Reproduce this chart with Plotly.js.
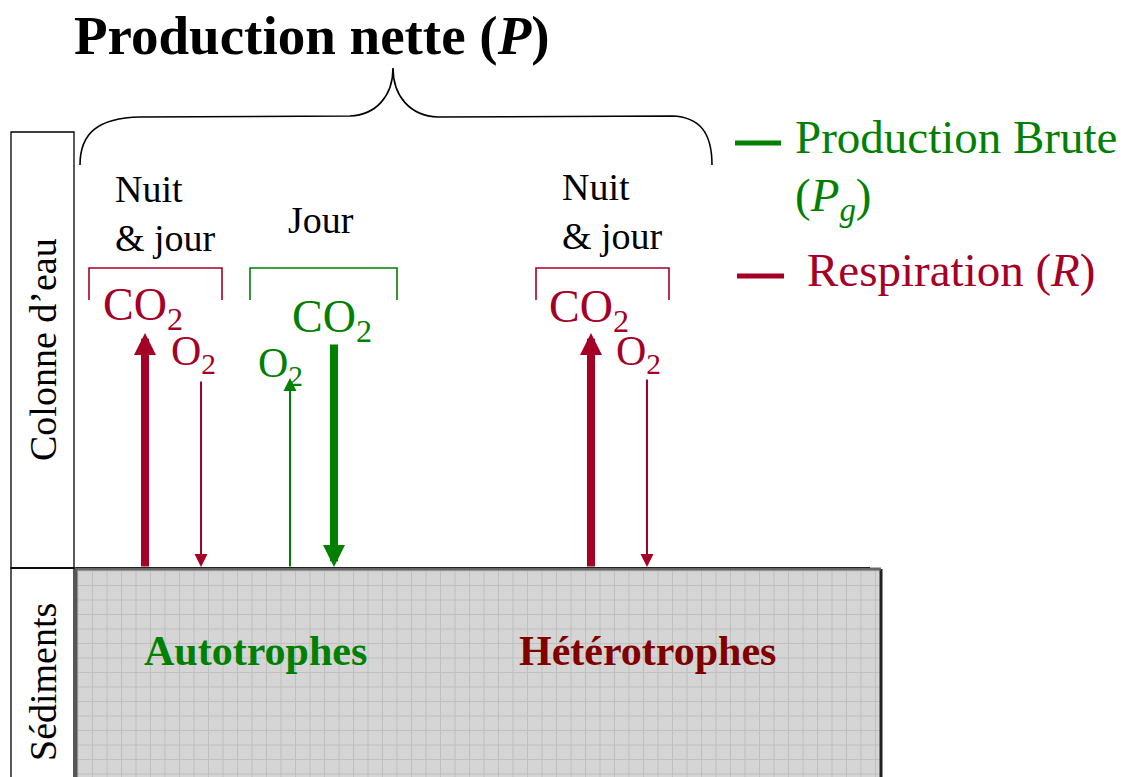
<!DOCTYPE html>
<html>
<head>
<meta charset="utf-8">
<script src="https://cdn.plot.ly/plotly-3.0.1.min.js"></script>
<style>html,body{margin:0;padding:0;background:#fff;}#chart{width:1126px;height:777px;}</style>
</head>
<body>
<div id="chart"></div>
<script>
// ---- content (labels and flux descriptors) ----
const titleText = 'Production nette (<i>P</i>)';
const zones = ['Colonne d’eau', 'Sédiments'];
const groups = ['Autotrophes', 'Hétérotrophes'];
const periods = ['Nuit<br>& jour', 'Jour', 'Nuit<br>& jour'];
const legendLabels = ['Production Brute', '(<i>P<sub>g</sub></i>)', 'Respiration (<i>R</i>)'];
const fluxGas = ['CO<sub>2</sub>', 'O<sub>2</sub>', 'O<sub>2</sub>', 'CO<sub>2</sub>', 'CO<sub>2</sub>', 'O<sub>2</sub>'];
const fluxDirection = ['up', 'down', 'up', 'down', 'up', 'down'];
const fluxProcess = ['R', 'R', 'Pg', 'Pg', 'R', 'R'];
const fluxStrength = ['fort', 'faible', 'faible', 'fort', 'fort', 'faible'];

// ---- styles ----
const SERIF = 'Liberation Serif, Times New Roman, serif';
const RED = '#a50026';
const GREEN = '#008000';
const DARKRED = '#800000';
const procColor = {R: RED, Pg: GREEN};

// ---- layout geometry (pixels in a 1126x777 frame) ----
const arrowX = [145, 201, 290, 334, 591, 647];
const arrowTop = [333, 380, 378, 343, 333, 378];
const bottomY = 567;
const gasPos = [[101, 308], [169, 354], [256, 366], [290, 320], [547, 310], [614, 354]];
const gasSize = [46, 42, 42, 46, 46, 42];
const periodPos = [[113, 213, 'left'], [321, 220, 'center'], [560, 211, 'left']];
const bracketSpan = [[89, 222, 'R'], [250, 397, 'Pg'], [536, 669, 'R']];

const shapes = [];
const annotations = [];

// left zone boxes
shapes.push({type:'rect', x0:11, x1:74, y0:132, y1:568, line:{color:'#000', width:1.3}, fillcolor:'rgba(0,0,0,0)'});
shapes.push({type:'rect', x0:11, x1:74, y0:568, y1:790, line:{color:'#000', width:1.3}, fillcolor:'rgba(0,0,0,0)'});
shapes.push({type:'line', x0:74, x1:78, y0:568, y1:568, line:{color:'#000', width:1.3}});

// sediment block
const sx0 = 76, sx1 = 881, sy0 = 569, sy1 = 790;
shapes.push({type:'rect', x0:sx0, x1:sx1, y0:sy0, y1:sy1, line:{width:0}, fillcolor:'#d5d5d5', layer:'below'});
let grid = '';
for (let x = 78; x < sx1; x += 14.5) grid += `M${x},${sy0} L${x},${sy1} `;
for (let y = 571; y < sy1; y += 14.5) grid += `M${sx0},${y} L${sx1},${y} `;
shapes.push({type:'path', path:grid, line:{color:'#bfbfbf', width:1}, layer:'below'});
shapes.push({type:'line', x0:sx0, x1:sx0, y0:sy0, y1:sy1, line:{color:'#555', width:3}});
shapes.push({type:'line', x0:sx1, x1:sx1, y0:sy0, y1:sy1, line:{color:'#222', width:3}});
shapes.push({type:'line', x0:sx0, x1:sx1, y0:sy0, y1:sy0, line:{color:'#666', width:3}});
shapes.push({type:'line', x0:sx0, x1:870, y0:sy0-1.5, y1:sy0-1.5, line:{color:'#222', width:1}});

// curly brace
shapes.push({type:'path',
  path:'M80,165 C80,133 98,118 140,117 L350,116 C376,115 393,96 393,68 C393,96 410,116 438,117 L672,116 C700,117 712,133 712,165',
  line:{color:'#000', width:1.6}});

// brackets
bracketSpan.forEach(b => {
  shapes.push({type:'path', path:`M${b[0]},300 L${b[0]},268 L${b[1]},268 L${b[1]},300`,
    line:{color:procColor[b[2]], width:1.6}});
});

// legend lines
shapes.push({type:'line', x0:735, x1:781, y0:143, y1:143, line:{color:GREEN, width:5}});
shapes.push({type:'line', x0:737, x1:784, y0:276, y1:276, line:{color:RED, width:5}});

// title
annotations.push({x:312, y:35, text:'<b>'+titleText+'</b>', showarrow:false, xanchor:'center', yanchor:'middle',
  font:{family:SERIF, size:55, color:'#000'}});

// zone labels (rotated)
annotations.push({x:43, y:350, text:zones[0], showarrow:false, textangle:-90, xanchor:'center', yanchor:'middle',
  font:{family:SERIF, size:38, color:'#000'}});
annotations.push({x:43, y:682, text:zones[1], showarrow:false, textangle:-90, xanchor:'center', yanchor:'middle',
  font:{family:SERIF, size:38, color:'#000'}});

// periods
periods.forEach((p, i) => {
  annotations.push({x:periodPos[i][0], y:periodPos[i][1], text:p, showarrow:false,
    xanchor:periodPos[i][2], yanchor:'middle', align:'left',
    font:{family:SERIF, size:38, color:'#000'}});
});

// group labels
annotations.push({x:255, y:651, text:'<b>'+groups[0]+'</b>', showarrow:false, xanchor:'center', yanchor:'middle',
  font:{family:SERIF, size:42, color:GREEN}});
annotations.push({x:647, y:651, text:'<b>'+groups[1]+'</b>', showarrow:false, xanchor:'center', yanchor:'middle',
  font:{family:SERIF, size:42, color:DARKRED}});

// legend texts
annotations.push({x:793, y:137, text:legendLabels[0], showarrow:false, xanchor:'left', yanchor:'middle',
  font:{family:SERIF, size:47, color:GREEN}});
annotations.push({x:793, y:198, text:legendLabels[1], showarrow:false, xanchor:'left', yanchor:'middle',
  font:{family:SERIF, size:47, color:GREEN}});
annotations.push({x:805, y:270, text:legendLabels[2], showarrow:false, xanchor:'left', yanchor:'middle',
  font:{family:SERIF, size:47, color:RED}});

// fluxes: gas labels + arrows
fluxGas.forEach((g, i) => {
  const col = procColor[fluxProcess[i]];
  annotations.push({x:gasPos[i][0], y:gasPos[i][1], text:g, showarrow:false, xanchor:'left', yanchor:'middle',
    font:{family:SERIF, size:gasSize[i], color:col}});
  const strong = fluxStrength[i] === 'fort';
  const up = fluxDirection[i] === 'up';
  const tipY = up ? arrowTop[i] : bottomY;
  const tailY = up ? bottomY + 1 : arrowTop[i];
  annotations.push({x:arrowX[i], y:tipY, ax:arrowX[i], ay:tailY, axref:'x', ayref:'y', xref:'x', yref:'y',
    text:'', showarrow:true, arrowhead:2, arrowcolor:col,
    arrowwidth: strong ? 8 : 2, arrowsize: strong ? 0.55 : 1.3, standoff:0, startstandoff:0});
});

const layout = {
  width:1126, height:777,
  margin:{l:0, r:0, t:0, b:0},
  paper_bgcolor:'#fff', plot_bgcolor:'#fff',
  showlegend:false,
  xaxis:{range:[0,1126], visible:false, fixedrange:true},
  yaxis:{range:[777,0], visible:false, fixedrange:true},
  shapes:shapes,
  annotations:annotations
};

Plotly.newPlot('chart', [{x:[], y:[], type:'scatter', mode:'markers', hoverinfo:'skip'}], layout, {displayModeBar:false, staticPlot:true});
</script>
</body>
</html>
